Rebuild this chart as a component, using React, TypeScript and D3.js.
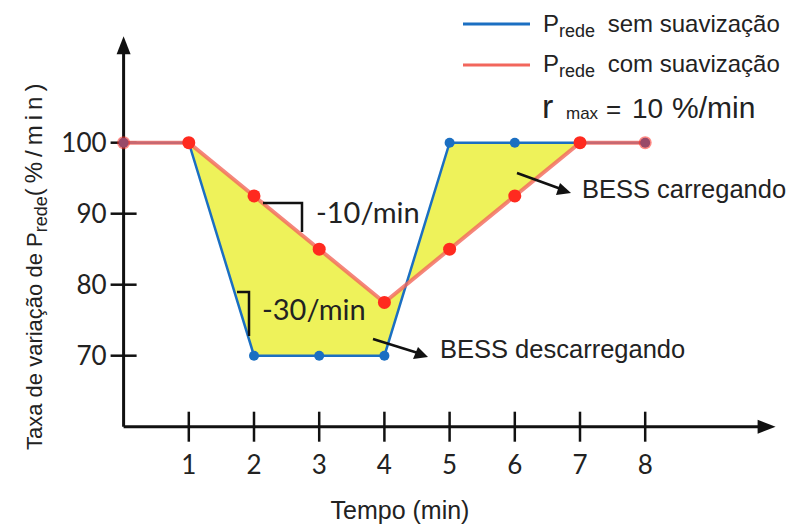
import * as d3 from 'd3';

// minutes on the x axis
const minutes = [0, 1, 2, 3, 4, 5, 6, 7, 8];
// P_rede without smoothing (%)
const semSuavizacao = [100, 100, 70, 70, 70, 100, 100, 100, 100];
// P_rede with smoothing, ramp limited to 10 %/min (%)
const comSuavizacao = [100, 100, 92.5, 85, 77.5, 85, 92.5, 100, 100];
const blueMarkerMinutes = [0, 2, 3, 4, 5, 6, 8];
const xTicks = [1, 2, 3, 4, 5, 6, 7, 8];
const yTicks = [70, 80, 90, 100];

const W = 797;
const H = 528;
const BLUE = '#1b6fc2';
const RED = '#f2665c';
const DOT_RED = '#ff2a1f';
const YELLOW = '#eef25a';
const sans = '"Liberation Sans", Arial, sans-serif';
const tickFont = 'Lato, "Open Sans", sans-serif';

export default function App() {
  const x = d3.scaleLinear().domain([0, 10]).range([123.6, 775.6]);
  const y = d3.scaleLinear().domain([60, 115]).range([426.7, 36.2]);

  const blueData = minutes.map((m, i) => [m, semSuavizacao[i]] as [number, number]);
  const redData = minutes.map((m, i) => [m, comSuavizacao[i]] as [number, number]);

  const line = d3
    .line<[number, number]>()
    .x((d) => x(d[0]))
    .y((d) => y(d[1]));

  const area = d3
    .area<number>()
    .x((m) => x(m))
    .y0((m) => y(semSuavizacao[minutes.indexOf(m)]))
    .y1((m) => y(comSuavizacao[minutes.indexOf(m)]));

  const x0 = x(0);
  const yAxisY = y(60);

  return (
    <svg width={W} height={H} style={{ position: 'absolute', left: 0, top: 0, background: '#fff' }}>
      {/* shaded difference */}
      <path d={area(minutes.filter((m) => m >= 1 && m <= 7)) ?? ''} fill={YELLOW} />

      {/* axes */}
      <line x1={x0} y1={yAxisY} x2={x(10) - 14} y2={yAxisY} stroke="#111" strokeWidth={3} />
      <path d={`M${x(10)},${yAxisY} L${x(10) - 18},${yAxisY - 7} L${x(10) - 18},${yAxisY + 7} Z`} fill="#111" />
      <line x1={x0} y1={yAxisY} x2={x0} y2={y(115) + 14} stroke="#111" strokeWidth={3} />
      <path d={`M${x0},${y(115)} L${x0 - 7},${y(115) + 18} L${x0 + 7},${y(115) + 18} Z`} fill="#111" />

      {xTicks.map((t) => (
        <g key={`x${t}`}>
          <line x1={x(t)} x2={x(t)} y1={yAxisY - 15} y2={yAxisY + 15} stroke="#111" strokeWidth={2.5} />
          <text x={x(t)} y={yAxisY + 47} textAnchor="middle" fontFamily={tickFont} fontSize={26} fill="#222">
            {t}
          </text>
        </g>
      ))}
      {yTicks.map((t) => (
        <g key={`y${t}`}>
          <line x1={x0 - 13} x2={x0 + 13} y1={y(t)} y2={y(t)} stroke="#111" strokeWidth={2.5} />
          <text x={x0 - 17} y={y(t)} dy="0.36em" textAnchor="end" fontFamily={tickFont} fontSize={26} fill="#222">
            {t}
          </text>
        </g>
      ))}

      {/* series */}
      <path d={line(blueData) ?? ''} fill="none" stroke={BLUE} strokeWidth={2.5} />
      <path d={line(redData) ?? ''} fill="none" stroke={RED} strokeWidth={4} strokeOpacity={0.8} />
      {blueMarkerMinutes.map((m) => (
        <circle key={`b${m}`} cx={x(m)} cy={y(semSuavizacao[minutes.indexOf(m)])} r={5} fill={BLUE} />
      ))}
      {redData.map((d) => (
        <circle
          key={`r${d[0]}`}
          cx={x(d[0])}
          cy={y(d[1])}
          r={6.5}
          fill={DOT_RED}
          fillOpacity={d[0] === 0 || d[0] === 8 ? 0.55 : 1}
        />
      ))}

      {/* slope annotations */}
      <path d="M263,203 H302 V232" fill="none" stroke="#111" strokeWidth={2.5} />
      <text x={316} y={213} dy="0.36em" fontFamily={tickFont} fontSize={29} fill="#222">
        -10/min
      </text>
      <path d="M237,292 H249 V336" fill="none" stroke="#111" strokeWidth={2.5} />
      <text x={262} y={310} dy="0.36em" fontFamily={tickFont} fontSize={29} fill="#222">
        -30/min
      </text>

      {/* BESS arrows */}
      <line x1={373} y1={339} x2={418} y2={353} stroke="#111" strokeWidth={2.5} />
      <path d="M428,357 L413,359 L418,347 Z" fill="#111" />
      <text x={440} y={358} fontFamily={sans} fontSize={25.5} fill="#222">
        BESS descarregando
      </text>
      <line x1={517} y1={173} x2={561} y2={189} stroke="#111" strokeWidth={2.5} />
      <path d="M571,193 L556,195 L560,183 Z" fill="#111" />
      <text x={582} y={198} fontFamily={sans} fontSize={25.5} fill="#222">
        BESS carregando
      </text>

      {/* legend */}
      <line x1={463} x2={530} y1={24} y2={24} stroke={BLUE} strokeWidth={3} />
      <text x={543} y={32} fontFamily={sans} fontSize={24} fill="#222">
        P
        <tspan fontSize={18} dy={5}>rede</tspan>
        <tspan dy={-5} dx={6}> sem suavização</tspan>
      </text>
      <line x1={463} x2={530} y1={65} y2={65} stroke={RED} strokeWidth={3} />
      <text x={543} y={72} fontFamily={sans} fontSize={24} fill="#222">
        P
        <tspan fontSize={18} dy={5}>rede</tspan>
        <tspan dy={-5} dx={6}> com suavização</tspan>
      </text>
      <text x={542} y={118} fontFamily={sans} fontSize={34} fill="#222">
        r
      </text>
      <text x={566} y={119} fontFamily={sans} fontSize={17} fill="#222">
        max
      </text>
      <text x={606} y={118} fontFamily={sans} fontSize={26} fill="#222">
        =
      </text>
      <text x={632} y={118} fontFamily={sans} fontSize={28} fill="#222">
        10
      </text>
      <text x={672} y={118} fontFamily={sans} fontSize={30} fill="#222">
        %/min
      </text>

      {/* axis titles */}
      <text x={400} y={519} textAnchor="middle" fontFamily={sans} fontSize={25} fill="#222">
        Tempo (min)
      </text>
      <text transform="translate(42,450) rotate(-90)" fontFamily={sans} fontSize={22} fill="#222">
        Taxa de variação de P
        <tspan fontSize={18} dy={5}>rede</tspan>
        <tspan dy={-5} fontSize={24} letterSpacing={5}>(%/min)</tspan>
      </text>
    </svg>
  );
}
